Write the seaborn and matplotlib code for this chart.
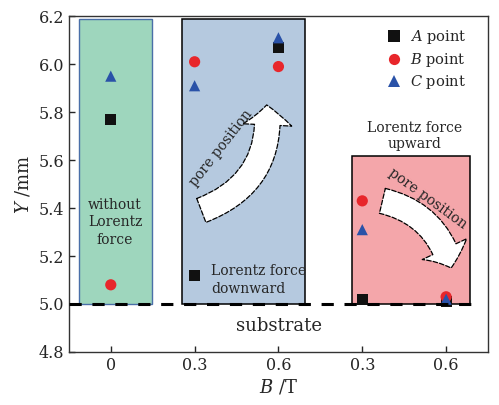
import numpy as np
import pandas as pd
import seaborn as sns
import matplotlib
matplotlib.use('Agg')
from matplotlib import pyplot as plt
from matplotlib.patches import Rectangle, FancyArrowPatch, ArrowStyle

# magnetic flux density groups (left: downward force, right: upward force)
b_labels = ["0", "0.3", "0.6", "0.3", "0.6"]
a_point = [5.77, 5.12, 6.07, 5.02, 5.01]
b_point = [5.08, 6.01, 5.99, 5.43, 5.03]
c_point = [5.95, 5.91, 6.11, 5.31, 5.02]
point_names = [r"$\it{A}$ point", r"$\it{B}$ point", r"$\it{C}$ point"]

pos = np.arange(len(b_labels))
df = pd.DataFrame({"pos": np.tile(pos, 3),
                   "Y": a_point + b_point + c_point,
                   "point": np.repeat(point_names, len(b_labels))})

sns.set_style("ticks")
plt.rcParams['font.family'] = ['DejaVu Serif']
plt.rcParams['mathtext.fontset'] = 'dejavuserif'
plt.rcParams['xtick.direction'] = 'in'
plt.rcParams['ytick.direction'] = 'in'

fig = plt.figure(figsize=(4.99, 4.05), dpi=100)
ax = fig.add_axes([0.138, 0.131, 0.840, 0.829])

palette = {point_names[0]: "#111111", point_names[1]: "#e8262b", point_names[2]: "#2a52a8"}
markers = {point_names[0]: "s", point_names[1]: "o", point_names[2]: "^"}
sns.scatterplot(data=df, x="pos", y="Y", hue="point", style="point",
                palette=palette, markers=markers, s=65, linewidth=0, ax=ax, zorder=3)

# shaded regions
ax.add_patch(Rectangle((-0.38, 5.0), 0.87, 1.187, facecolor="#9ed6bd",
                       edgecolor="#4a6fa8", lw=1.0, zorder=1))
ax.add_patch(Rectangle((0.845, 5.0), 1.475, 1.187, facecolor="#b5c9df",
                       edgecolor="black", lw=1.1, zorder=1))
ax.add_patch(Rectangle((2.88, 5.0), 1.41, 0.617, facecolor="#f4a6aa",
                       edgecolor="black", lw=1.1, zorder=1))

# substrate line
ax.plot([-0.5, 4.35], [5.0, 5.0], color="black", lw=2.2, dashes=(4, 3.5), zorder=4)

# curved arrows
style = ArrowStyle.Simple(head_length=0.9, head_width=2.2, tail_width=1.15)
ax.add_patch(FancyArrowPatch((1.08, 5.39), (1.86, 5.83), arrowstyle=style,
                             connectionstyle="arc3,rad=0.38", mutation_scale=16,
                             facecolor="white", edgecolor="black", lw=0.9,
                             linestyle="--", shrinkA=0, shrinkB=0, zorder=2))
ax.add_patch(FancyArrowPatch((3.24, 5.43), (4.06, 5.15), arrowstyle=style,
                             connectionstyle="arc3,rad=-0.3", mutation_scale=16,
                             facecolor="white", edgecolor="black", lw=0.9,
                             linestyle="--", shrinkA=0, shrinkB=0, zorder=2))

ax.text(1.31, 5.65, "pore position", rotation=52, ha="center", va="center", fontsize=10)
ax.text(3.78, 5.44, "pore position", rotation=-36, ha="center", va="center", fontsize=10)
ax.text(0.05, 5.34, "without\nLorentz\nforce", ha="center", va="center",
        fontsize=10, linespacing=1.3)
ax.text(1.20, 5.10, "Lorentz force\ndownward", ha="left", va="center",
        fontsize=10, linespacing=1.3)
ax.text(3.62, 5.70, "Lorentz force\nupward", ha="center", va="center",
        fontsize=10, linespacing=1.2)
ax.text(2.01, 4.91, "substrate", ha="center", va="center", fontsize=13)

ax.set_xlim(-0.5, 4.5)
ax.set_ylim(4.8, 6.2)
ax.set_xticks(pos)
ax.set_xticklabels(b_labels)
ax.set_yticks(np.arange(4.8, 6.21, 0.2))
ax.set_yticklabels(["%.1f" % v for v in np.arange(4.8, 6.21, 0.2)])
ax.tick_params(labelsize=11.5, length=4, width=1)
for sp in ax.spines.values():
    sp.set_linewidth(1.0)
    sp.set_color("#333333")
ax.set_xlabel(r"$\it{B}$ /T", fontsize=13, labelpad=3)
ax.set_ylabel(r"$\it{Y}$ /mm", fontsize=13, labelpad=4)

handles, labels = ax.get_legend_handles_labels()
ax.legend(handles, labels, loc="upper right", bbox_to_anchor=(0.97, 0.99),
          frameon=False, fontsize=10.5, handletextpad=0.1, labelspacing=0.3,
          markerscale=1.0, borderaxespad=0.2)

fig.savefig("out.png", dpi=100)
